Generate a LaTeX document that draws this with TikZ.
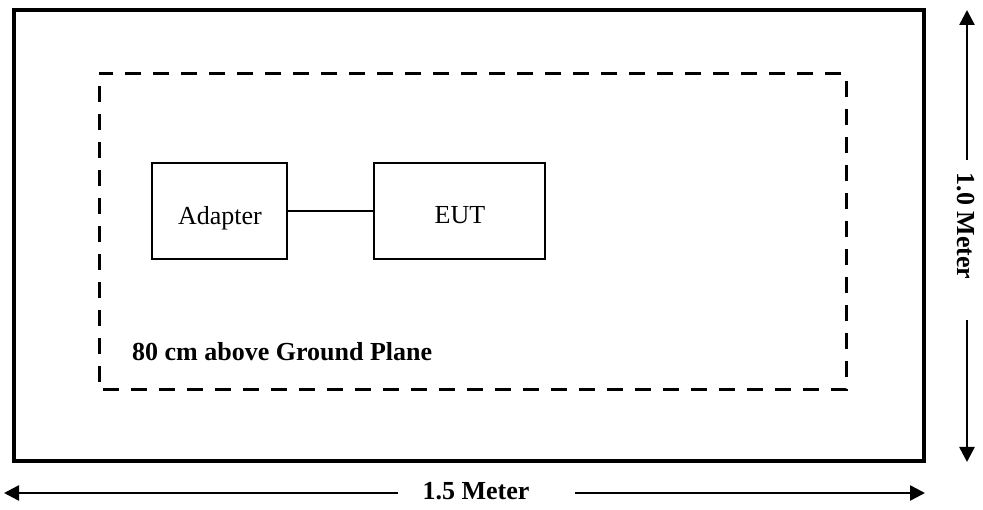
\documentclass[tikz,border=0pt]{standalone}
\usepackage{fontspec}
\setmainfont{Liberation Serif}
\usetikzlibrary{arrows.meta}
\begin{document}
\begin{tikzpicture}[x=1pt,y=-1pt,
  frame/.style={draw, line width=4pt},
  testarea/.style={draw, line width=3pt, dash pattern=on 16pt off 12pt, dash phase=16pt},
  unitbox/.style={draw, line width=2pt, inner sep=0pt},
  txt/.style={font=\fontsize{26}{30}\selectfont, inner sep=0pt},
  boldtxt/.style={font=\fontsize{26}{30}\selectfont\bfseries, inner sep=0pt},
  wire/.style={line width=2pt},
  dimline/.style={line width=2.5pt},
  dimarrow/.style={dimline, -{Triangle[length=15pt,width=15pt]}}
]
\useasboundingbox (0,0) rectangle (983,510);

% table top and the area 80 cm above the ground plane
\draw[frame] (14,10) rectangle (924,461);
\draw[testarea] (99,74) rectangle (846,390);

% equipment
\node[unitbox, minimum width=135pt, minimum height=96pt] (adapter) at (219.5,211) {};
\node[unitbox, minimum width=171pt, minimum height=96pt] (eut) at (459.5,211) {};
\node[txt, anchor=base] (adaptertext) at (220,225) {Adapter};
\node[txt, anchor=base] (euttext) at (460,224) {EUT};
\draw[wire] (adapter.east) -- (eut.west);

\node[boldtxt, anchor=base west] (planetext) at (132,361) {80 cm above Ground Plane};

% width dimension
\node[boldtxt, anchor=base] (width) at (476,499) {1.5 Meter};
\coordinate (wleft) at (4,493);
\coordinate (wleftend) at (398,493);
\coordinate (wright) at (925,493);
\coordinate (wrightend) at (575,493);
\draw[dimarrow] (wleftend) -- (wleft);
\draw[dimarrow] (wrightend) -- (wright);

% depth dimension
\node[boldtxt, rotate=-90] (depth) at (966,226) {1.0 Meter};
\coordinate (dtop) at (967,10);
\coordinate (dtopend) at (967,160);
\coordinate (dbottom) at (967,462);
\coordinate (dbottomend) at (967,320);
\draw[dimarrow] (dtopend) -- (dtop);
\draw[dimarrow] (dbottomend) -- (dbottom);
\end{tikzpicture}
\end{document}
